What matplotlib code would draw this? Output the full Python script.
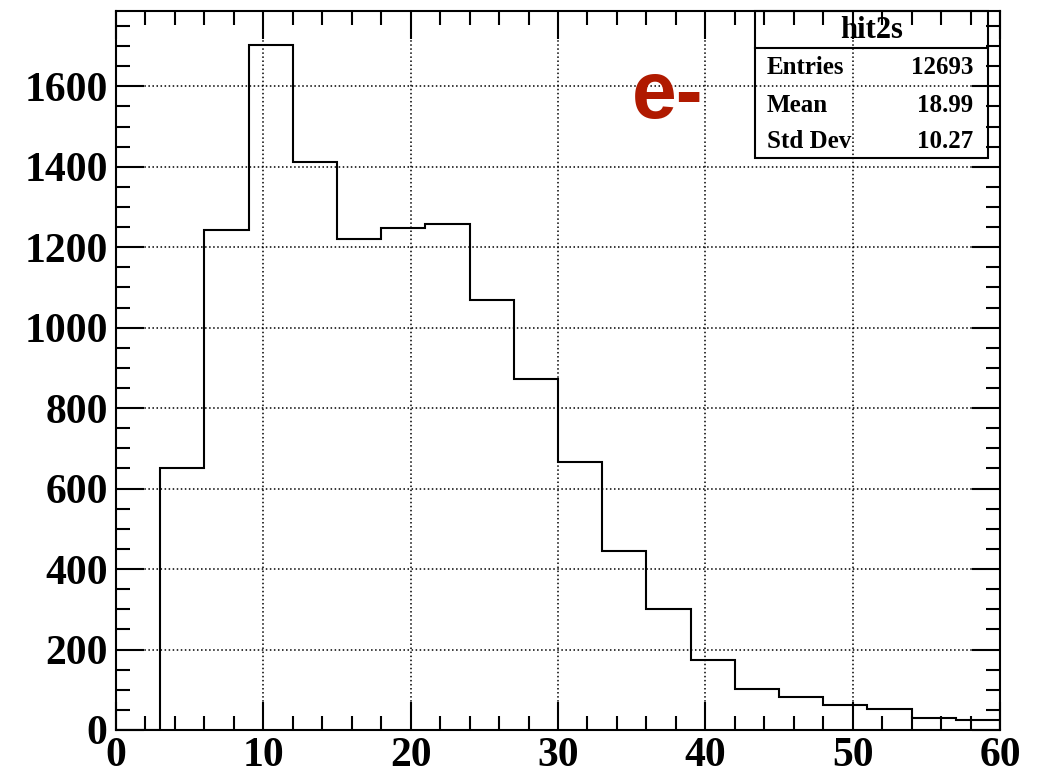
import numpy as np
import matplotlib
matplotlib.use("Agg")
import matplotlib.pyplot as plt
from matplotlib.patches import Rectangle
from matplotlib.ticker import MultipleLocator

# bin edges and counts of hit2s
bin_edges = np.arange(0, 61, 3)
counts = [0, 651, 1243, 1702, 1412, 1221, 1248, 1258, 1069, 873,
          665, 445, 300, 174, 102, 83, 63, 53, 29, 24]

hist_name = "hit2s"
stat_labels = ["Entries", "Mean", "Std Dev"]
stat_values = ["12693", "18.99", "10.27"]
particle = "e-"

plt.rcParams['font.family'] = ['Liberation Serif', 'DejaVu Serif']
plt.rcParams['font.weight'] = 'bold'

fig = plt.figure(figsize=(10.44, 7.75), dpi=100)
ax = fig.add_axes([116/1044, 45/775, 884/1044, 719/775])

ax.stairs(counts, bin_edges, color="black", linewidth=1.5)

ax.set_xlim(0, 60)
ax.set_ylim(0, 1.05 * max(counts))

ax.xaxis.set_major_locator(MultipleLocator(10))
ax.xaxis.set_minor_locator(MultipleLocator(2))
ax.yaxis.set_major_locator(MultipleLocator(200))
ax.yaxis.set_minor_locator(MultipleLocator(50))

ax.tick_params(which="both", direction="in", top=True, right=True,
               width=1.5, labelsize=30)
ax.tick_params(which="major", length=20)
ax.tick_params(which="minor", length=10)
ax.tick_params(axis="x", pad=5)
ax.tick_params(axis="y", pad=6)
for lab in ax.get_xticklabels() + ax.get_yticklabels():
    lab.set_fontweight("bold")

ax.grid(True, which="major", linestyle=":", color="black", linewidth=1.1)
for s in ax.spines.values():
    s.set_linewidth(1.5)

# stats box, like ROOT draws it
x0, x1 = 755/1044, 988/1044
y_top, y_sep, y_bot = 1 - 11/775, 1 - 48/775, 1 - 158/775
fig.add_artist(Rectangle((x0, y_bot), x1 - x0, y_top - y_bot,
                         transform=fig.transFigure, fill=False,
                         edgecolor="black", linewidth=1.5))
fig.add_artist(plt.Line2D([x0, x1], [y_sep, y_sep],
                          transform=fig.transFigure, color="black", linewidth=1.5))
fig.text((x0 + x1) / 2, 1 - 31/775, hist_name, ha="center", va="center",
         fontsize=22, fontweight="bold")
row_y = [68, 105, 142]
for lab, val, yy in zip(stat_labels, stat_values, row_y):
    fig.text(767/1044, 1 - yy/775, lab, ha="left", va="center",
             fontsize=18, fontweight="bold")
    fig.text(973/1044, 1 - yy/775, val, ha="right", va="center",
             fontsize=18, fontweight="bold")

fig.text(632/1044, 1 - 118/775, particle, ha="left", va="baseline",
         fontsize=58, fontweight="bold", color="#b01a00",
         family=["Liberation Sans", "DejaVu Sans"])

fig.savefig("out.png", dpi=100)
